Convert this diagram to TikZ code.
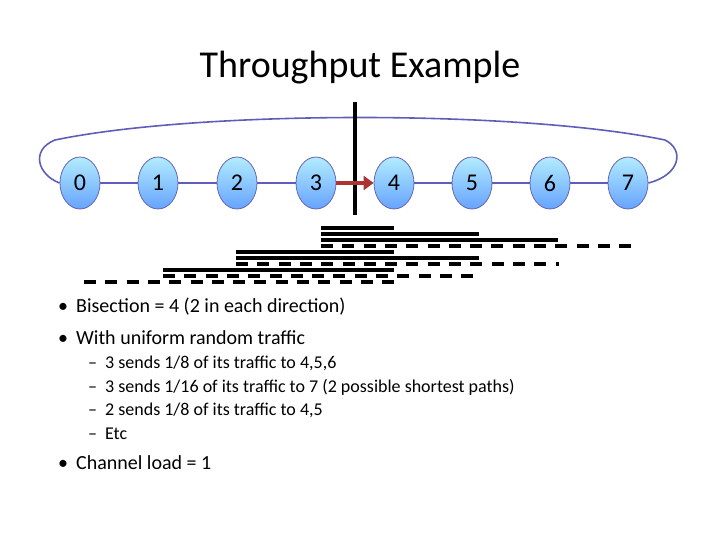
\documentclass[tikz,border=0pt]{standalone}
\usepackage{fontspec}
\setmainfont{Carlito}
\usetikzlibrary{shapes.geometric,arrows.meta}
\begin{document}
\begin{tikzpicture}[x=1pt,y=-1pt,
  nd/.style={ellipse,draw=blue!50!black!60,line width=0.8pt,minimum width=40pt,minimum height=52pt,inner sep=0pt,
    top color=blue!25!cyan!30!white,bottom color=blue!60!cyan!60,font=\fontsize{24}{24}\selectfont},
  link/.style={draw=blue!40!gray!90,line width=1.6pt},
  bar/.style={line width=4pt},
  dbar/.style={line width=4pt,dash pattern=on 12pt off 9.3pt},
  txt/.style={anchor=west,inner sep=0pt,font=\fontsize{20}{20}\selectfont},
  stxt/.style={anchor=west,inner sep=0pt,font=\fontsize{18}{18}\selectfont}]
\useasboundingbox (0,0) rectangle (720,540);
\node[font=\fontsize{38}{38}\selectfont] (title) at (360,68) {Throughput Example};
\foreach \i/\x in {0/80,1/158,2/237,3/316,4/394,5/472,6/550,7/628}
  \node[nd] (n\i) at (\x,183) {\i};
\draw[link] (n0)--(n1)--(n2)--(n3);
\draw[link] (n4)--(n5)--(n6)--(n7);
\draw[link] (n0.west) .. controls (38,175) and (30,150) .. (55,140)
  .. controls (200,110) and (520,110) .. (665,140)
  .. controls (685,150) and (680,175) .. (n7.east);
\coordinate (ct) at (355,102); \coordinate (cb) at (355,215);
\draw[line width=4pt] (ct)--(cb);
\draw[-{Triangle[length=10pt,width=14pt]},line width=4pt,draw=red!60!black!80,color=red!60!black!80] (n3.east)--(n4.west);
% bars
\coordinate (a1) at (321,228); \coordinate (b1) at (394,228);
\draw[bar] (a1)--(b1);
\coordinate (a2) at (321,234); \coordinate (b2) at (479,234); \draw[bar] (a2)--(b2);
\coordinate (a3) at (321,240); \coordinate (b3) at (558,240); \draw[bar] (a3)--(b3);
\coordinate (a4) at (321,246); \coordinate (b4) at (632,246); \draw[dbar] (a4)--(b4);
\coordinate (a5) at (236,252); \coordinate (b5) at (394,252); \draw[bar] (a5)--(b5);
\coordinate (a6) at (236,258); \coordinate (b6) at (479,258); \draw[bar] (a6)--(b6);
\coordinate (a7) at (236,264); \coordinate (b7) at (559,264); \draw[dbar] (a7)--(b7);
\coordinate (a8) at (163,270); \coordinate (b8) at (394,270); \draw[bar] (a8)--(b8);
\coordinate (a9) at (163,276); \coordinate (b9) at (474,276); \draw[dbar] (a9)--(b9);
\coordinate (a10) at (84,282); \coordinate (b10) at (394,282); \draw[dbar] (a10)--(b10);
% text
\node[txt] (bu1) at (58,307) {•\hspace{8pt}Bisection = 4 (2 in each direction)};
\node[txt] (bu2) at (58,338) {•\hspace{8pt}With uniform random traffic};
\node[stxt] (s1) at (88,363) {–\hspace{8pt}3 sends 1/8 of its traffic to 4,5,6};
\node[stxt] (s2) at (88,387) {–\hspace{8pt}3 sends 1/16 of its traffic to 7 (2 possible shortest paths)};
\node[stxt] (s3) at (88,410) {–\hspace{8pt}2 sends 1/8 of its traffic to 4,5};
\node[stxt] (s4) at (88,434) {–\hspace{8pt}Etc};
\node[txt] (bu3) at (58,463) {•\hspace{8pt}Channel load = 1};
\end{tikzpicture}
\end{document}
